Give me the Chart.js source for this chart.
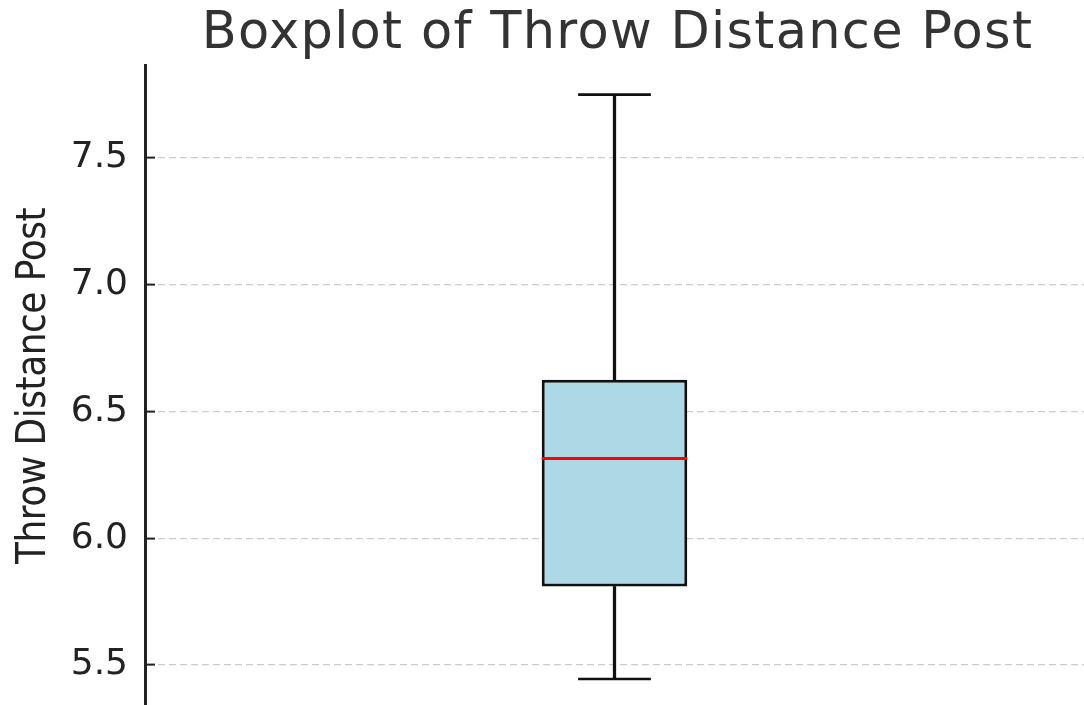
<!DOCTYPE html>
<html>
<head>
<meta charset="utf-8">
<script src="https://cdn.jsdelivr.net/npm/chart.js@4.4.1/dist/chart.umd.min.js"></script>
<style>
  body { margin: 0; background: #fff; }
  #wrap { width: 1084px; height: 705px; }
</style>
</head>
<body>
<div id="wrap"><canvas id="myChart" width="1084" height="705"></canvas></div>
<script>
const categories = ['Throw Distance Post'];
const whiskerLow = [5.445];
const q1 = [5.81];
const median = [6.315];
const q3 = [6.625];
const whiskerHigh = [7.75];
const yTicks = [5.5, 6.0, 6.5, 7.0, 7.5];
const titleText = 'Boxplot of Throw Distance Post';
const yLabel = 'Throw Distance Post';

// caps, median line and the two titles
const boxExtras = {
    id: 'boxExtras',
    afterDatasetsDraw(chart) {
        const ctx = chart.ctx;
        const y = chart.scales.y;
        const bars = chart.getDatasetMeta(2).data;
        ctx.save();
        bars.forEach((el, i) => {
            const half = el.width / 2;
            const cap = el.width / 4;
            ctx.lineWidth = 2.6;
            ctx.strokeStyle = '#111';
            [whiskerLow[i], whiskerHigh[i]].forEach(v => {
                const py = y.getPixelForValue(v);
                ctx.beginPath();
                ctx.moveTo(el.x - cap, py);
                ctx.lineTo(el.x + cap, py);
                ctx.stroke();
            });
            const my = y.getPixelForValue(median[i]);
            ctx.strokeStyle = '#ff0000';
            ctx.lineWidth = 3;
            ctx.beginPath();
            ctx.moveTo(el.x - half, my);
            ctx.lineTo(el.x + half, my);
            ctx.stroke();
        });
        ctx.restore();
    },
    afterDraw(chart) {
        const ctx = chart.ctx;
        const area = chart.chartArea;
        ctx.save();
        ctx.fillStyle = '#333';
        ctx.font = '51px "DejaVu Sans"';
        ctx.letterSpacing = '1.3px';
        ctx.textAlign = 'center';
        ctx.textBaseline = 'alphabetic';
        ctx.fillText(titleText, (area.left + area.right) / 2 + 3, 48);
        ctx.restore();

        ctx.save();
        ctx.fillStyle = '#222';
        ctx.font = '40px "DejaVu Sans Condensed", "DejaVu Sans"';
        ctx.letterSpacing = '-0.5px';
        ctx.textAlign = 'center';
        ctx.textBaseline = 'alphabetic';
        ctx.translate(45, (area.top + area.bottom) / 2 + 1);
        ctx.rotate(-Math.PI / 2);
        ctx.fillText(yLabel, 0, 0);
        ctx.restore();
    }
};

const ctx = document.getElementById('myChart');

const chart = new Chart(ctx, {
    type: 'bar',
    data: {
        labels: categories,
        datasets: [{
            label: 'whisker low',
            data: categories.map((c, i) => [whiskerLow[i], q1[i]]),
            backgroundColor: '#111',
            barThickness: 2.6,
            borderWidth: 0
        }, {
            label: 'whisker high',
            data: categories.map((c, i) => [q3[i], whiskerHigh[i]]),
            backgroundColor: '#111',
            barThickness: 2.6,
            borderWidth: 0
        }, {
            label: 'box',
            data: categories.map((c, i) => [q1[i], q3[i]]),
            backgroundColor: '#add8e6',
            borderColor: '#111',
            borderWidth: 3,
            borderSkipped: false,
            categoryPercentage: 1,
            barPercentage: 0.155
        }]
    },
    options: {
        responsive: false,
        animation: false,
        devicePixelRatio: 1,
        layout: { padding: { top: 65, left: 0, right: 0, bottom: 0 } },
        datasets: { bar: { grouped: false } },
        plugins: {
            legend: { display: false },
            title: { display: false },
            tooltip: { enabled: false }
        },
        scales: {
            x: { display: false },
            y: {
                min: 5.3422,
                max: 7.8669,
                afterBuildTicks: s => { s.ticks = yTicks.map(v => ({ value: v })); },
                afterFit: s => {
                    s.width = 145;
                    s.paddingTop = 0;
                    s.paddingBottom = 0;
                },
                ticks: {
                    font: { family: 'DejaVu Sans', size: 36 },
                    color: '#222',
                    padding: 27,
                    callback: v => Number(v).toFixed(1)
                },
                grid: {
                    color: '#cccccc',
                    lineWidth: 1.2,
                    drawTicks: true,
                    tickLength: -10,
                    tickColor: '#222',
                    tickWidth: 2,
                    tickBorderDash: []
                },
                border: { display: true, color: '#222', width: 3, dash: [7, 4] }
            }
        }
    },
    plugins: [boxExtras]
});
</script>
</body>
</html>
